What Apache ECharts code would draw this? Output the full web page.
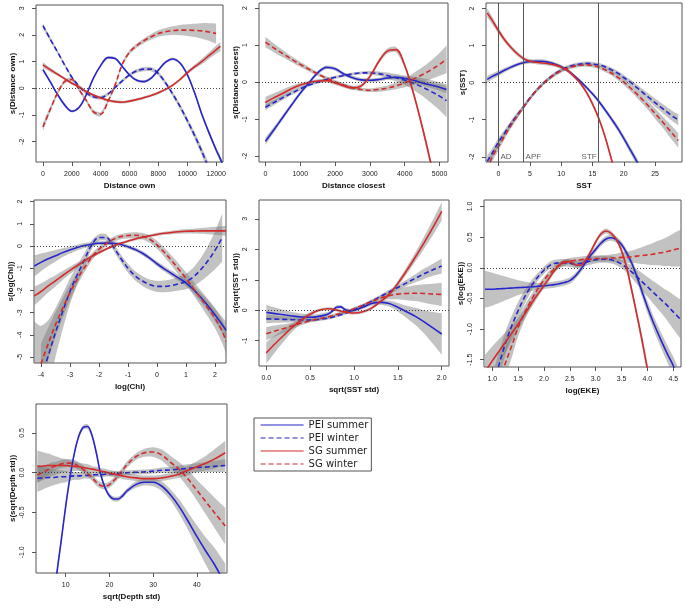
<!DOCTYPE html>
<html><head><meta charset="utf-8">
<script src="https://cdn.jsdelivr.net/npm/echarts@6/dist/echarts.min.js"></script>
<style>html,body{margin:0;padding:0;background:#fff}#c{width:685px;height:608px}</style>
</head><body><div id="c"></div>
<script>
// ---------- Panel 1: Distance own ----------
const ownX = [0,500,1000,1500,2000,2500,3000,3500,4000,4500,5000,5500,6000,6500,7000,7500,8000,8500,9000,9500,10000,10500,11000,11500,12000,12300,12450];
const ownPeiSummer = [0.70,0.25,-0.22,-0.62,-0.86,-0.72,-0.25,0.38,0.85,1.15,1.12,0.82,0.50,0.30,0.25,0.38,0.68,0.98,1.10,0.95,0.52,-0.15,-0.95,-1.65,-2.30,-2.65,-2.85];
const ownPeiSummerSe = [0.08,0.06,0.05,0.05,0.05,0.05,0.05,0.05,0.05,0.05,0.05,0.05,0.05,0.05,0.05,0.05,0.05,0.05,0.05,0.05,0.06,0.07,0.08,0.09,0.10,0.11,0.12];
const ownPeiWinter = [2.35,1.85,1.37,0.88,0.42,0.08,-0.17,-0.32,-0.35,-0.22,0.03,0.28,0.50,0.65,0.72,0.72,0.55,0.20,-0.22,-0.68,-1.20,-1.75,-2.35,-3.00,null,null,null];
const ownPeiWinterSe = [0.10,0.08,0.07,0.06,0.06,0.06,0.06,0.06,0.07,0.06,0.06,0.06,0.06,0.07,0.08,0.08,0.08,0.08,0.09,0.10,0.11,0.13,0.15,0.18,null,null,null];
const ownSgSummer = [0.88,0.70,0.53,0.36,0.19,0.05,-0.12,-0.25,-0.36,-0.45,-0.50,-0.52,-0.48,-0.42,-0.35,-0.27,-0.17,-0.04,0.12,0.33,0.58,0.80,1.00,1.22,1.44,1.57,null];
const ownSgSummerSe = [0.10,0.08,0.06,0.05,0.05,0.05,0.05,0.05,0.05,0.05,0.05,0.05,0.05,0.05,0.05,0.05,0.05,0.05,0.05,0.06,0.07,0.08,0.10,0.12,0.15,0.17,null];
const ownSgWinter = [-1.45,-0.80,-0.19,0.25,0.33,-0.05,-0.45,-0.88,-0.97,-0.50,0.12,0.90,1.35,1.60,1.78,1.93,2.05,2.12,2.16,2.18,2.18,2.17,2.15,2.11,2.05,null,null];
const ownSgWinterSe = [0.15,0.10,0.08,0.07,0.07,0.07,0.07,0.08,0.08,0.08,0.07,0.07,0.08,0.08,0.09,0.10,0.12,0.14,0.16,0.19,0.22,0.25,0.29,0.33,0.38,null,null];
const ownXTicks = [0,2000,4000,6000,8000,10000,12000];
const ownYTicks = [-2,-1,0,1,2,3];

// ---------- Panel 2: Distance closest ----------
const closeX = [0,250,500,750,1000,1250,1500,1750,2000,2250,2500,2750,3000,3250,3500,3750,4000,4250,4500,4750,5000,5200];
const closePeiSummer = [-1.60,-1.28,-0.95,-0.62,-0.30,-0.02,0.25,0.40,0.36,0.22,0.12,0.06,0.05,0.07,0.11,0.13,0.10,0.05,-0.02,-0.08,-0.14,-0.20];
const closePeiSummerSe = [0.10,0.08,0.07,0.06,0.05,0.05,0.05,0.05,0.05,0.05,0.05,0.05,0.05,0.05,0.05,0.05,0.05,0.06,0.07,0.08,0.09,0.10];
const closePeiWinter = [-0.68,-0.55,-0.42,-0.30,-0.18,-0.08,0.00,0.07,0.13,0.18,0.22,0.25,0.25,0.23,0.18,0.12,0.05,-0.03,-0.13,-0.25,-0.38,-0.50];
const closePeiWinterSe = [0.08,0.07,0.06,0.05,0.05,0.04,0.04,0.04,0.04,0.04,0.04,0.04,0.05,0.06,0.08,0.10,0.13,0.18,0.24,0.31,0.38,0.45];
const closeSgSummer = [-0.55,-0.42,-0.30,-0.18,-0.08,-0.01,0.03,0.04,-0.02,-0.10,-0.16,-0.10,0.15,0.55,0.84,0.88,0.45,-0.30,-1.20,-2.20,-3.30,null];
const closeSgSummerSe = [0.15,0.12,0.10,0.08,0.06,0.05,0.05,0.05,0.05,0.05,0.05,0.05,0.05,0.06,0.07,0.07,0.07,0.08,0.10,0.12,0.15,null];
const closeSgWinter = [1.08,0.92,0.77,0.62,0.48,0.35,0.22,0.11,0.01,-0.08,-0.15,-0.20,-0.22,-0.20,-0.16,-0.10,-0.02,0.08,0.20,0.33,0.48,0.62];
const closeSgWinterSe = [0.14,0.12,0.10,0.08,0.07,0.06,0.05,0.05,0.05,0.05,0.05,0.05,0.05,0.06,0.07,0.09,0.12,0.16,0.20,0.25,0.31,0.37];
const closeXTicks = [0,1000,2000,3000,4000,5000];
const closeYTicks = [-2,-1,0,1,2];

// ---------- Panel 3: SST ----------
const sstX = [-1.8,-1,0,1,2,3,4,5,6,7,8,9,10,11,12,13,14,15,16,17,18,19,20,21,22,23,24,25,26,27,28,28.7];
const sstPeiSummer = [0.09,0.17,0.25,0.34,0.42,0.49,0.54,0.57,0.58,0.58,0.55,0.50,0.43,0.33,0.20,0.05,-0.12,-0.30,-0.50,-0.73,-0.97,-1.22,-1.50,-1.80,-2.10,-2.42,null,null,null,null,null,null];
const sstPeiSummerSe = [0.10,0.08,0.07,0.06,0.05,0.05,0.05,0.05,0.05,0.05,0.05,0.05,0.05,0.05,0.05,0.05,0.05,0.05,0.06,0.06,0.07,0.08,0.08,0.09,0.10,0.11,null,null,null,null,null,null];
const sstPeiWinter = [-2.12,-1.90,-1.60,-1.35,-1.10,-0.87,-0.65,-0.42,-0.22,-0.04,0.11,0.24,0.34,0.42,0.47,0.50,0.52,0.51,0.48,0.43,0.35,0.26,0.14,0.02,-0.12,-0.26,-0.40,-0.54,-0.67,-0.80,-0.93,-1.00];
const sstPeiWinterSe = [0.15,0.13,0.11,0.09,0.08,0.07,0.06,0.05,0.05,0.05,0.05,0.05,0.05,0.05,0.05,0.05,0.05,0.05,0.05,0.05,0.06,0.06,0.07,0.07,0.08,0.09,0.10,0.11,0.12,0.13,0.14,0.15];
const sstSgSummer = [1.88,1.68,1.40,1.15,0.95,0.78,0.65,0.58,0.55,0.53,0.51,0.48,0.42,0.33,0.18,0.00,-0.25,-0.57,-0.96,-1.45,-2.05,-2.70,null,null,null,null,null,null,null,null,null,null];
const sstSgSummerSe = [0.12,0.10,0.08,0.07,0.06,0.06,0.05,0.05,0.05,0.05,0.05,0.05,0.05,0.05,0.05,0.05,0.05,0.06,0.06,0.07,0.08,0.09,null,null,null,null,null,null,null,null,null,null];
const sstSgWinter = [-2.35,-2.00,-1.72,-1.43,-1.15,-0.90,-0.66,-0.43,-0.22,-0.05,0.10,0.22,0.32,0.39,0.44,0.47,0.48,0.46,0.42,0.35,0.26,0.15,0.02,-0.13,-0.29,-0.46,-0.64,-0.83,-1.02,-1.22,-1.42,-1.56];
const sstSgWinterSe = [0.15,0.13,0.11,0.09,0.08,0.07,0.06,0.05,0.05,0.05,0.05,0.05,0.05,0.05,0.05,0.05,0.05,0.05,0.05,0.06,0.06,0.07,0.08,0.09,0.10,0.11,0.12,0.14,0.15,0.17,0.19,0.20];
const sstFrontX = [0,4,16];
const sstFrontNames = ['AD','APF','STF'];
const sstXTicks = [0,5,10,15,20,25];
const sstYTicks = [-2,-1,0,1,2];

// ---------- Panel 4: log(Chl) ----------
const chlX = [-4.23,-4,-3.75,-3.5,-3.25,-3,-2.75,-2.5,-2.25,-2,-1.75,-1.5,-1.25,-1,-0.75,-0.5,-0.25,0,0.25,0.5,0.75,1,1.25,1.5,1.75,2,2.25,2.38];
const chlPeiSummer = [-0.90,-0.74,-0.58,-0.44,-0.30,-0.18,-0.07,0.02,0.08,0.12,0.13,0.12,0.07,-0.03,-0.16,-0.33,-0.55,-0.80,-1.03,-1.24,-1.45,-1.66,-1.95,-2.30,-2.68,-3.10,-3.55,-3.80];
const chlPeiSummerSe = [0.48,0.40,0.32,0.26,0.20,0.16,0.13,0.11,0.10,0.09,0.09,0.09,0.09,0.09,0.09,0.10,0.10,0.11,0.12,0.13,0.14,0.15,0.17,0.20,0.24,0.29,0.35,0.40];
const chlPeiWinter = [-6.90,-6.00,-4.95,-3.90,-2.95,-2.05,-1.30,-0.62,0.05,0.38,0.38,-0.05,-0.55,-1.00,-1.35,-1.58,-1.74,-1.82,-1.82,-1.78,-1.70,-1.60,-1.40,-1.08,-0.68,-0.20,0.38,null];
const chlPeiWinterSe = [3.50,2.40,1.60,1.10,0.80,0.58,0.42,0.30,0.20,0.15,0.15,0.16,0.18,0.20,0.21,0.22,0.23,0.25,0.26,0.28,0.31,0.35,0.42,0.52,0.66,0.85,1.08,null];
const chlSgSummer = [-2.25,-2.05,-1.80,-1.57,-1.33,-1.10,-0.88,-0.67,-0.47,-0.30,-0.14,0.00,0.12,0.22,0.31,0.39,0.46,0.52,0.57,0.61,0.64,0.66,0.67,0.68,0.68,0.68,0.68,0.68];
const chlSgSummerSe = [0.42,0.36,0.30,0.25,0.20,0.16,0.13,0.10,0.08,0.07,0.06,0.06,0.06,0.06,0.06,0.06,0.06,0.07,0.07,0.08,0.09,0.10,0.11,0.13,0.15,0.18,0.21,0.23];
const chlSgWinter = [null,-5.30,-4.40,-3.55,-2.80,-2.10,-1.50,-0.98,-0.50,-0.15,0.10,0.30,0.42,0.47,0.48,0.44,0.30,0.05,-0.28,-0.65,-1.05,-1.46,-1.90,-2.33,-2.78,-3.25,-3.85,-4.30];
const chlSgWinterSe = [null,0.90,0.72,0.56,0.44,0.34,0.26,0.20,0.16,0.13,0.12,0.12,0.12,0.13,0.14,0.15,0.16,0.18,0.20,0.22,0.25,0.28,0.31,0.35,0.40,0.45,0.52,0.56];
const chlXTicks = [-4,-3,-2,-1,0,1,2];
const chlYTicks = [-5,-4,-3,-2,-1,0,1,2];

// ---------- Panel 5: sqrt(SST std) ----------
const sstdX = [0,0.1,0.2,0.3,0.4,0.5,0.6,0.7,0.75,0.8,0.85,0.9,0.95,1.0,1.1,1.2,1.3,1.4,1.5,1.6,1.7,1.8,1.9,2.0];
const sstdPeiSummer = [-0.07,-0.11,-0.15,-0.19,-0.22,-0.23,-0.20,-0.13,-0.04,0.10,0.11,0.02,-0.02,0.00,0.10,0.22,0.26,0.22,0.10,-0.05,-0.20,-0.38,-0.58,-0.78];
const sstdPeiSummerSe = [0.25,0.20,0.16,0.13,0.11,0.09,0.08,0.07,0.06,0.06,0.06,0.06,0.06,0.06,0.06,0.07,0.08,0.10,0.14,0.20,0.28,0.38,0.52,0.68];
const sstdPeiWinter = [-0.28,-0.29,-0.30,-0.31,-0.32,-0.32,-0.30,-0.26,-0.23,-0.19,-0.15,-0.10,-0.05,0.02,0.15,0.30,0.45,0.60,0.75,0.90,1.05,1.20,1.33,1.45];
const sstdPeiWinterSe = [0.15,0.12,0.10,0.08,0.07,0.06,0.05,0.05,0.05,0.05,0.05,0.05,0.05,0.05,0.05,0.05,0.06,0.07,0.08,0.10,0.13,0.17,0.20,0.24];
const sstdSgSummer = [-1.40,-1.10,-0.82,-0.55,-0.32,-0.13,0.00,0.05,0.04,0.01,-0.03,-0.06,-0.08,-0.09,-0.05,0.07,0.28,0.52,0.88,1.30,1.75,2.22,2.72,3.25];
const sstdSgSummerSe = [0.35,0.28,0.20,0.14,0.10,0.07,0.05,0.05,0.05,0.05,0.05,0.05,0.05,0.05,0.05,0.05,0.06,0.07,0.09,0.12,0.15,0.20,0.25,0.30];
const sstdSgWinter = [-0.77,-0.68,-0.60,-0.51,-0.42,-0.35,-0.28,-0.22,-0.18,-0.14,-0.10,-0.05,0.00,0.05,0.16,0.28,0.40,0.48,0.53,0.55,0.56,0.55,0.53,0.52];
const sstdSgWinterSe = [0.22,0.18,0.14,0.10,0.07,0.05,0.05,0.05,0.05,0.05,0.05,0.05,0.05,0.05,0.05,0.05,0.07,0.12,0.17,0.22,0.26,0.30,0.34,0.38];
const sstdXTicks = [0,0.5,1,1.5,2];
const sstdYTicks = [-1,0,1,2,3];

// ---------- Panel 6: log(EKE) ----------
const ekeX = [0.86,1.0,1.1,1.2,1.3,1.4,1.5,1.6,1.7,1.8,1.9,2.0,2.1,2.2,2.3,2.4,2.5,2.6,2.7,2.8,2.9,3.0,3.1,3.2,3.3,3.4,3.5,3.6,3.7,3.8,3.9,4.0,4.1,4.2,4.3,4.4,4.5,4.64];
const ekePeiSummer = [-0.35,-0.35,-0.345,-0.34,-0.335,-0.33,-0.325,-0.32,-0.315,-0.31,-0.30,-0.295,-0.285,-0.275,-0.26,-0.24,-0.21,-0.14,-0.04,0.08,0.20,0.30,0.40,0.47,0.49,0.46,0.38,0.24,0.07,-0.15,-0.40,-0.64,-0.86,-1.06,-1.25,-1.43,-1.60,-1.90];
const ekePeiSummerSe = [0.30,0.27,0.24,0.21,0.18,0.15,0.12,0.10,0.08,0.06,0.05,0.05,0.05,0.05,0.05,0.05,0.05,0.05,0.05,0.05,0.05,0.05,0.05,0.05,0.05,0.05,0.05,0.06,0.07,0.08,0.09,0.10,0.11,0.12,0.13,0.14,0.15,0.17];
const ekePeiWinter = [null,-2.00,-1.68,-1.38,-1.12,-0.90,-0.70,-0.52,-0.37,-0.24,-0.13,-0.04,0.03,0.07,0.08,0.08,0.07,0.06,0.07,0.09,0.11,0.13,0.14,0.14,0.13,0.10,0.06,0.00,-0.07,-0.15,-0.23,-0.31,-0.39,-0.47,-0.55,-0.63,-0.72,-0.84];
const ekePeiWinterSe = [null,0.25,0.22,0.20,0.18,0.16,0.14,0.12,0.10,0.08,0.06,0.06,0.06,0.06,0.06,0.06,0.06,0.06,0.06,0.06,0.06,0.06,0.06,0.06,0.06,0.06,0.07,0.08,0.10,0.12,0.14,0.16,0.18,0.20,0.22,0.25,0.28,0.32];
const ekeSgSummer = [-1.70,-1.52,-1.40,-1.28,-1.16,-1.04,-0.92,-0.79,-0.66,-0.53,-0.41,-0.29,-0.17,-0.05,0.05,0.10,0.10,0.05,0.04,0.12,0.26,0.42,0.55,0.60,0.56,0.46,0.28,0.00,-0.38,-0.78,-1.20,-1.65,-2.10,null,null,null,null,null];
const ekeSgSummerSe = [0.28,0.24,0.21,0.18,0.15,0.12,0.10,0.08,0.07,0.06,0.05,0.05,0.05,0.04,0.04,0.04,0.04,0.04,0.04,0.04,0.04,0.04,0.04,0.04,0.04,0.04,0.05,0.06,0.07,0.08,0.09,0.10,0.11,null,null,null,null,null];
const ekeSgWinter = [null,null,-2.10,-1.70,-1.45,-1.22,-0.97,-0.78,-0.61,-0.46,-0.32,-0.20,-0.10,-0.02,0.04,0.08,0.11,0.12,0.13,0.14,0.14,0.15,0.15,0.15,0.16,0.16,0.17,0.17,0.18,0.19,0.20,0.21,0.22,0.24,0.25,0.27,0.29,0.32];
const ekeSgWinterSe = [null,null,0.30,0.26,0.22,0.18,0.15,0.12,0.10,0.08,0.06,0.05,0.05,0.05,0.05,0.05,0.05,0.05,0.05,0.05,0.05,0.05,0.05,0.05,0.06,0.07,0.08,0.09,0.10,0.12,0.14,0.16,0.18,0.20,0.22,0.24,0.27,0.30];
const ekeXTicks = [1.0,1.5,2.0,2.5,3.0,3.5,4.0,4.5];
const ekeYTicks = [-1.5,-1.0,-0.5,0.0,0.5,1.0];

// ---------- Panel 7: sqrt(Depth std) ----------
const depthX = [3.5,5,6,7,8,9,10,11,12,13,14,15,16,17,18,19,20,21,22,23,24,26,28,30,32,34,36,38,40,42,44,46.5];
const depthPeiSummer = [null,null,null,-1.70,-1.25,-0.84,-0.42,-0.05,0.25,0.46,0.57,0.58,0.47,0.25,-0.02,-0.19,-0.29,-0.33,-0.33,-0.29,-0.23,-0.15,-0.12,-0.12,-0.17,-0.28,-0.43,-0.61,-0.80,-0.98,-1.15,-1.40];
const depthPeiSummerSe = [null,null,null,0.08,0.06,0.05,0.04,0.04,0.03,0.03,0.03,0.03,0.03,0.03,0.03,0.03,0.03,0.03,0.03,0.03,0.03,0.04,0.04,0.05,0.06,0.07,0.09,0.11,0.14,0.17,0.21,0.26];
const depthPeiWinter = [-0.07,-0.065,-0.06,-0.06,-0.055,-0.05,-0.05,-0.045,-0.04,-0.04,-0.035,-0.035,-0.03,-0.025,-0.025,-0.02,-0.015,-0.015,-0.01,-0.005,0.0,0.005,0.01,0.02,0.03,0.035,0.045,0.055,0.065,0.07,0.08,0.09];
const depthPeiWinterSe = [0.17,0.14,0.12,0.10,0.09,0.08,0.07,0.06,0.05,0.05,0.04,0.04,0.04,0.03,0.03,0.03,0.03,0.03,0.03,0.03,0.03,0.03,0.03,0.03,0.035,0.04,0.045,0.05,0.055,0.06,0.07,0.08];
const depthSgSummer = [0.08,0.085,0.09,0.09,0.09,0.09,0.09,0.085,0.08,0.075,0.065,0.055,0.045,0.035,0.02,0.01,-0.005,-0.015,-0.03,-0.04,-0.05,-0.065,-0.075,-0.075,-0.065,-0.045,-0.015,0.03,0.075,0.12,0.17,0.25];
const depthSgSummerSe = [0.20,0.17,0.15,0.13,0.11,0.09,0.08,0.07,0.06,0.05,0.05,0.05,0.04,0.04,0.04,0.04,0.04,0.04,0.04,0.04,0.04,0.04,0.04,0.04,0.04,0.04,0.05,0.06,0.07,0.09,0.12,0.15];
const depthSgWinter = [-0.03,0.01,0.04,0.07,0.09,0.11,0.12,0.12,0.11,0.08,0.04,-0.01,-0.06,-0.12,-0.16,-0.17,-0.15,-0.10,-0.04,0.03,0.10,0.20,0.25,0.26,0.22,0.13,0.04,-0.08,-0.22,-0.36,-0.50,-0.67];
const depthSgWinterSe = [0.10,0.08,0.07,0.06,0.05,0.05,0.05,0.05,0.05,0.05,0.05,0.04,0.04,0.04,0.04,0.04,0.04,0.04,0.04,0.04,0.04,0.04,0.05,0.06,0.07,0.08,0.09,0.11,0.13,0.16,0.19,0.23];
const depthXTicks = [10,20,30,40];
const depthYTicks = [-1.0,-0.5,0.0,0.5];

const seriesNames = ['PEI summer','PEI winter','SG summer','SG winter'];

// ---------- styling / layout ----------
const BLUE = '#2626cc', RED = '#d42a2a', BAND = 'rgba(120,120,120,0.45)';
const FONT = 'Liberation Sans';
const styles = [
  {color: BLUE, dash: 'solid'},
  {color: BLUE, dash: [5,3]},
  {color: RED, dash: 'solid'},
  {color: RED, dash: [5,3]}
];

const panels = [
  {grid:{left:36,top:5,width:187,height:157}, xr:[-480,12480], yr:[-2.76,3.12], xt:ownXTicks, yt:ownYTicks, xn:'Distance own', yn:'s(Distance own)', xd:null, yd:null,
   x:ownX, c:[[ownPeiSummer,ownPeiSummerSe],[ownPeiWinter,ownPeiWinterSe],[ownSgSummer,ownSgSummerSe],[ownSgWinter,ownSgWinterSe]]},
  {grid:{left:259,top:3,width:189,height:159}, xr:[-184,5242], yr:[-2.16,2.14], xt:closeXTicks, yt:closeYTicks, xn:'Distance closest', yn:'s(Distance closest)', xd:null, yd:null,
   x:closeX, c:[[closePeiSummer,closePeiSummerSe],[closePeiWinter,closePeiWinterSe],[closeSgSummer,closeSgSummerSe],[closeSgWinter,closeSgWinterSe]]},
  {grid:{left:486,top:3,width:196,height:159}, xr:[-2.0,29.3], yr:[-2.14,2.15], xt:sstXTicks, yt:sstYTicks, xn:'SST', yn:'s(SST)', xd:null, yd:null,
   x:sstX, c:[[sstPeiSummer,sstPeiSummerSe],[sstPeiWinter,sstPeiWinterSe],[sstSgSummer,sstSgSummerSe],[sstSgWinter,sstSgWinterSe]]},
  {grid:{left:34,top:200,width:192,height:163}, xr:[-4.24,2.38], yr:[-5.27,2.07], xt:chlXTicks, yt:chlYTicks, xn:'log(Chl)', yn:'s(log(Chl))', xd:null, yd:null,
   x:chlX, c:[[chlPeiSummer,chlPeiSummerSe],[chlPeiWinter,chlPeiWinterSe],[chlSgSummer,chlSgSummerSe],[chlSgWinter,chlSgWinterSe]]},
  {grid:{left:259,top:200,width:190,height:166}, xr:[-0.083,2.083], yr:[-1.83,3.62], xt:sstdXTicks, yt:sstdYTicks, xn:'sqrt(SST std)', yn:'s(sqrt(SST std))', xd:1, yd:null,
   x:sstdX, c:[[sstdPeiSummer,sstdPeiSummerSe],[sstdPeiWinter,sstdPeiWinterSe],[sstdSgSummer,sstdSgSummerSe],[sstdSgWinter,sstdSgWinterSe]]},
  {grid:{left:484,top:200,width:197,height:167}, xr:[0.84,4.65], yr:[-1.62,1.106], xt:ekeXTicks, yt:ekeYTicks, xn:'log(EKE)', yn:'s(log(EKE))', xd:1, yd:1,
   x:ekeX, c:[[ekePeiSummer,ekePeiSummerSe],[ekePeiWinter,ekePeiWinterSe],[ekeSgSummer,ekeSgSummerSe],[ekeSgWinter,ekeSgWinterSe]]},
  {grid:{left:36,top:404,width:191,height:169}, xr:[3.2,46.9], yr:[-1.26,0.863], xt:depthXTicks, yt:depthYTicks, xn:'sqrt(Depth std)', yn:'s(sqrt(Depth std))', xd:null, yd:1,
   x:depthX, c:[[depthPeiSummer,depthPeiSummerSe],[depthPeiWinter,depthPeiWinterSe],[depthSgSummer,depthSgSummerSe],[depthSgWinter,depthSgWinterSe]]}
];

function fmt(d) { return d == null ? (v => String(v)) : (v => v.toFixed(d)); }

const grids = [], xAxes = [], yAxes = [], series = [];

function bandSeries(gi, xs, ys, se) {
  const rows = [];
  xs.forEach((x, k) => { if (ys[k] != null && se[k] != null) rows.push([x, ys[k] - se[k], ys[k] + se[k]]); });
  return {
    type: 'custom', xAxisIndex: gi, yAxisIndex: gi, clip: true, silent: true, z: 1,
    data: rows, encode: {x: 0, y: [1, 2]},
    renderItem: function (params, api) {
      if (params.dataIndex !== 0) return null;
      const up = rows.map(r => api.coord([r[0], r[2]]));
      const lo = rows.map(r => api.coord([r[0], r[1]])).reverse();
      const pts = [up[0]].concat(up, [up[up.length - 1], lo[0]], lo, [lo[lo.length - 1]]);
      return {type: 'polygon', shape: {points: pts, smooth: 0.25}, style: {fill: BAND}};
    }
  };
}

panels.forEach((p, gi) => {
  grids.push(Object.assign({show: true, borderColor: '#555', borderWidth: 1, backgroundColor: 'transparent', containLabel: false}, p.grid));
  xAxes.push({
    type: 'value', gridIndex: gi, min: p.xr[0], max: p.xr[1], position: 'bottom',
    axisLine: {show: false, onZero: false}, splitLine: {show: false},
    axisTick: {show: true, customValues: p.xt, length: 4, inside: false, lineStyle: {color: '#555'}},
    axisLabel: {customValues: p.xt, formatter: fmt(p.xd), fontSize: 7, fontFamily: FONT, color: '#222', margin: 9},
    name: p.xn, nameLocation: 'middle', nameGap: 20,
    nameTextStyle: {fontSize: 8, fontWeight: 'bold', fontFamily: FONT, color: '#111'}
  });
  yAxes.push({
    type: 'value', gridIndex: gi, min: p.yr[0], max: p.yr[1], position: 'left',
    axisLine: {show: false, onZero: false}, splitLine: {show: false},
    axisTick: {show: true, customValues: p.yt, length: 4, inside: false, lineStyle: {color: '#555'}},
    axisLabel: {customValues: p.yt, formatter: fmt(p.yd), rotate: 90, fontSize: 7, fontFamily: FONT, color: '#222', margin: 10},
    name: p.yn, nameLocation: 'middle', nameGap: 19, nameRotate: 90,
    nameTextStyle: {fontSize: 8, fontWeight: 'bold', fontFamily: FONT, color: '#111'}
  });
  p.c.forEach((pair) => series.push(bandSeries(gi, p.x, pair[0], pair[1])));
  p.c.forEach((pair, si) => {
    const s = {
      type: 'line', name: seriesNames[si], xAxisIndex: gi, yAxisIndex: gi,
      data: p.x.map((x, k) => [x, pair[0][k] == null ? null : pair[0][k]]),
      smooth: 0.35, showSymbol: false, symbol: 'none', clip: true, silent: true, z: 3,
      connectNulls: false,
      lineStyle: {color: styles[si].color, width: 1.6, type: styles[si].dash},
      itemStyle: {color: styles[si].color}
    };
    if (si === 0) {
      s.markLine = {silent: true, symbol: ['none', 'none'], label: {show: false}, animation: false,
        lineStyle: {color: '#444', type: [1, 2], width: 1}, data: [{yAxis: 0}]};
    }
    series.push(s);
  });
});

// SST fronts (panel 3)
const FRONT_LABEL_Y = -1.99;
series.push({
  type: 'scatter', xAxisIndex: 2, yAxisIndex: 2, symbolSize: 0, silent: true, z: 4,
  data: sstFrontX.map((x, i) => ({value: [x, FRONT_LABEL_Y], label: {position: i < 2 ? 'right' : 'left'}})),
  label: {show: true, formatter: (prm) => sstFrontNames[prm.dataIndex], fontSize: 8, fontFamily: FONT, color: '#333', distance: 2},
  markLine: {silent: true, symbol: ['none', 'none'], label: {show: false}, animation: false,
    lineStyle: {color: '#555', type: 'solid', width: 1}, data: sstFrontX.map(x => ({xAxis: x}))}
});

const chart = echarts.init(document.getElementById('c'), null, {renderer: 'canvas'});
chart.setOption({
  animation: false,
  backgroundColor: '#fff',
  textStyle: {fontFamily: FONT},
  grid: grids, xAxis: xAxes, yAxis: yAxes, series: series,
  legend: {
    show: true, orient: 'vertical', left: 254, top: 418, data: seriesNames,
    itemWidth: 43, itemHeight: 10, itemGap: 1, padding: [1, 3, 1, 6],
    borderColor: '#555', borderWidth: 1, selectedMode: false,
    itemStyle: {color: 'rgba(0,0,0,0)', borderColor: 'rgba(0,0,0,0)', borderWidth: 0, opacity: 0},
    lineStyle: {width: 1.2},
    textStyle: {fontFamily: 'DejaVu Sans', fontSize: 10, lineHeight: 12, color: '#222'}
  }
});
</script>
</body></html>
